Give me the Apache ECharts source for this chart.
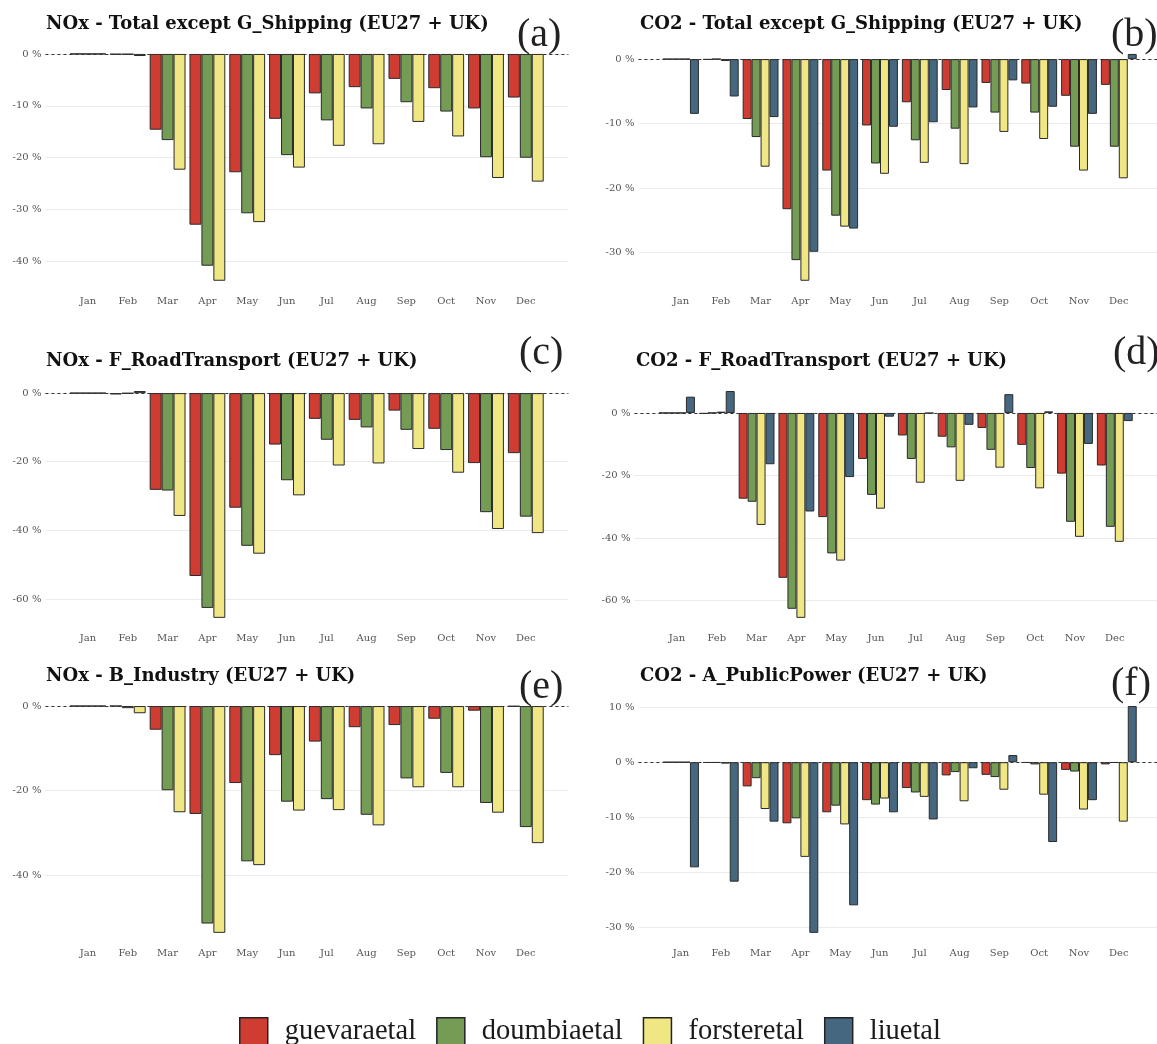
<!DOCTYPE html>
<html><head><meta charset="utf-8">
<script src="https://cdn.jsdelivr.net/npm/echarts@6/dist/echarts.min.js"></script>
<style>html,body{margin:0;padding:0;background:#fff;overflow:hidden}#c{width:1157px;height:1044px}</style>
</head><body><div id="c"></div>
<script>
const months = ['Jan','Feb','Mar','Apr','May','Jun','Jul','Aug','Sep','Oct','Nov','Dec'];
const methods = ['guevaraetal','doumbiaetal','forsteretal','liuetal'];

// (a) NOx - Total except G_Shipping
const noxTotalGuevara = [0, -0.1, -14.6, -32.9, -22.8, -12.5, -7.6, -6.4, -4.8, -6.6, -10.5, -8.4];
const noxTotalDoumbia = [0, -0.1, -16.6, -40.8, -30.7, -19.5, -12.8, -10.5, -9.3, -11.1, -19.9, -20.0];
const noxTotalForster = [0, -0.4, -22.3, -43.7, -32.4, -21.9, -17.7, -17.4, -13.1, -15.9, -23.9, -24.6];
// (b) CO2 - Total except G_Shipping
const co2TotalGuevara = [0, -0.1, -9.3, -23.3, -17.3, -10.3, -6.7, -4.8, -3.7, -3.8, -5.7, -4.0];
const co2TotalDoumbia = [0, 0, -12.1, -31.2, -24.3, -16.2, -12.6, -10.8, -8.3, -8.3, -13.6, -13.6];
const co2TotalForster = [0, -0.3, -16.7, -34.4, -26.0, -17.8, -16.1, -16.3, -11.3, -12.4, -17.3, -18.5];
const co2TotalLiu = [-8.5, -5.8, -9.0, -29.9, -26.3, -10.5, -9.8, -7.5, -3.3, -7.4, -8.5, 0.8];
// (c) NOx - F_RoadTransport
const noxRoadGuevara = [0, -0.4, -28.2, -53.3, -33.4, -15.0, -7.5, -7.8, -5.1, -10.4, -20.4, -17.5];
const noxRoadDoumbia = [0, -0.1, -28.4, -62.6, -44.5, -25.4, -13.6, -10.0, -10.7, -16.6, -34.7, -36.0];
const noxRoadForster = [0, 0.6, -35.8, -65.5, -46.8, -29.8, -21.1, -20.5, -16.3, -23.2, -39.6, -40.8];
// (d) CO2 - F_RoadTransport
const co2RoadGuevara = [0, -0.3, -27.4, -52.7, -33.3, -14.7, -7.2, -7.6, -4.8, -10.2, -19.4, -16.8];
const co2RoadDoumbia = [0, 0, -28.4, -62.6, -44.9, -26.2, -14.7, -11.0, -11.8, -17.6, -34.8, -36.4];
const co2RoadForster = [0, 0.4, -35.8, -65.5, -47.2, -30.6, -22.3, -21.7, -17.5, -24.1, -39.6, -41.2];
const co2RoadLiu = [5.2, 7.0, -16.4, -31.5, -20.5, -1.2, -0.1, -3.8, 6.0, 0.5, -9.9, -2.6];
// (e) NOx - B_Industry
const noxIndGuevara = [0, 0, -5.6, -25.5, -18.2, -11.6, -8.4, -5.0, -4.5, -3.0, -1.1, -0.1];
const noxIndDoumbia = [0, -0.5, -19.9, -51.4, -36.7, -22.6, -22.0, -25.7, -17.1, -15.8, -22.9, -28.6];
const noxIndForster = [0, -1.7, -25.1, -53.6, -37.6, -24.7, -24.6, -28.2, -19.2, -19.2, -25.2, -32.4];
// (f) CO2 - A_PublicPower
const co2PowerGuevara = [0, -0.1, -4.4, -11.1, -9.1, -6.9, -4.7, -2.4, -2.3, -0.1, -1.4, -0.4];
const co2PowerDoumbia = [0, -0.1, -2.9, -10.2, -7.9, -7.7, -5.5, -1.8, -2.7, -0.4, -1.7, -0.1];
const co2PowerForster = [0, -0.25, -8.5, -17.2, -11.3, -6.6, -6.3, -7.1, -5.0, -5.9, -8.6, -10.8];
const co2PowerLiu = [-19.1, -21.7, -10.8, -31.0, -26.0, -9.1, -10.4, -1.1, 1.3, -14.5, -6.9, 10.2];

// y tick labels per panel
const ticksA = [0, -10, -20, -30, -40];
const ticksB = [0, -10, -20, -30];
const ticksC = [0, -20, -40, -60];
const ticksD = [0, -20, -40, -60];
const ticksE = [0, -20, -40];
const ticksF = [10, 0, -10, -20, -30];

const titles = [
  'NOx - Total except G_Shipping (EU27 + UK)',
  'CO2 - Total except G_Shipping (EU27 + UK)',
  'NOx - F_RoadTransport (EU27 + UK)',
  'CO2 - F_RoadTransport (EU27 + UK)',
  'NOx - B_Industry (EU27 + UK)',
  'CO2 - A_PublicPower (EU27 + UK)'
];
const letters = ['(a)','(b)','(c)','(d)','(e)','(f)'];

const panelSeries = [
  [noxTotalGuevara, noxTotalDoumbia, noxTotalForster],
  [co2TotalGuevara, co2TotalDoumbia, co2TotalForster, co2TotalLiu],
  [noxRoadGuevara, noxRoadDoumbia, noxRoadForster],
  [co2RoadGuevara, co2RoadDoumbia, co2RoadForster, co2RoadLiu],
  [noxIndGuevara, noxIndDoumbia, noxIndForster],
  [co2PowerGuevara, co2PowerDoumbia, co2PowerForster, co2PowerLiu]
];
const panelTicks = [ticksA, ticksB, ticksC, ticksD, ticksE, ticksF];

// ---- layout / style ----
const colors = ['#CF3D32', '#749C55', '#F0E683', '#45677F'];
const layout = [
  {left: 45.4, top: 42.6, title: [46, 15], letter: [517, 15]},
  {left: 638.4, top: 42.6, title: [640, 15], letter: [1111, 15]},
  {left: 45.4, top: 379.7, title: [46, 352], letter: [519, 333]},
  {left: 634.4, top: 379.7, title: [636, 352], letter: [1113, 333]},
  {left: 45.4, top: 694.7, title: [46, 667], letter: [519, 667]},
  {left: 638.4, top: 694.7, title: [640, 667], letter: [1111, 664]}
];
const GRID_W = 523, GRID_H = 249.5, XMIN = -1.07, XMAX = 12.07;
const axisFont = {fontFamily: 'DejaVu Serif', fontSize: 10, color: '#555'};

const option = {
  animation: false,
  backgroundColor: '#fff',
  title: [], grid: [], xAxis: [], yAxis: [], series: [],
  legend: {
    data: methods, left: 234, top: 1012, itemWidth: 28, itemHeight: 28, itemGap: 20,
    icon: 'rect', selectedMode: false,
    itemStyle: {borderColor: '#222', borderWidth: 1.5},
    textStyle: {fontFamily: 'Liberation Serif', fontSize: 28.5, color: '#1a1a1a', padding: [0, 0, 0, 12]}
  }
};

panelSeries.forEach((list, p) => {
  const L = layout[p];
  const all = [].concat(...list, [0]);
  const dmin = Math.min(...all), dmax = Math.max(...all);
  const span = dmax - dmin;
  option.title.push({text: titles[p], left: L.title[0], top: L.title[1], padding: 0,
    textStyle: {fontFamily: 'DejaVu Serif', fontWeight: 'bold', fontSize: 18, color: '#111'}});
  option.title.push({text: letters[p], left: L.letter[0], top: L.letter[1], padding: 0,
    textStyle: {fontFamily: 'Liberation Serif', fontWeight: 'normal', fontSize: 40, color: '#222'}});
  option.grid.push({left: L.left, top: L.top, width: GRID_W, height: GRID_H, outerBoundsMode: 'none', containLabel: false});
  option.xAxis.push({
    type: 'value', gridIndex: p, min: XMIN, max: XMAX,
    axisLine: {show: false}, axisTick: {show: false}, splitLine: {show: false},
    axisLabel: Object.assign({customValues: months.map((m, i) => i), formatter: v => months[Math.round(v)], margin: 4}, axisFont)
  });
  option.yAxis.push({
    type: 'value', gridIndex: p, min: dmin - 0.05 * span, max: dmax + 0.05 * span,
    axisLine: {show: false},
    axisTick: {show: false, customValues: panelTicks[p]},
    splitLine: {show: true, lineStyle: {color: '#ebebeb', width: 1}},
    axisLabel: Object.assign({customValues: panelTicks[p], formatter: v => v + ' %', margin: 4}, axisFont)
  });
  list.forEach((vals, s) => {
    const ser = {
      type: 'bar', name: methods[s], xAxisIndex: p, yAxisIndex: p,
      data: vals.map((v, i) => [i, v]),
      barCategoryGap: '10%', barGap: '0%',
      itemStyle: {color: colors[s], borderColor: '#2a2a2a', borderWidth: 1},
      silent: true
    };
    if (s === 0) {
      ser.markLine = {silent: true, symbol: ['none', 'none'], label: {show: false},
        lineStyle: {color: '#333', width: 1, type: [3, 3]}, data: [{yAxis: 0}]};
    }
    option.series.push(ser);
  });
});

const chart = echarts.init(document.getElementById('c'), null, {renderer: 'canvas'});
chart.setOption(option);
</script></body></html>
